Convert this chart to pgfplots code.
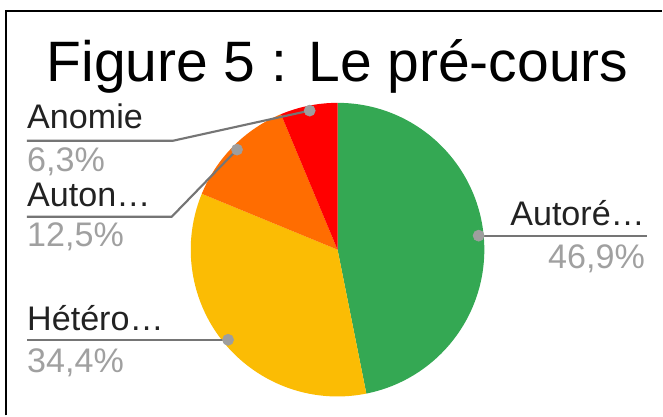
\documentclass[border=0pt]{standalone}
\usepackage{pgfplots}
\usepackage{pgfplotstable}
\pgfplotsset{compat=1.18}
\usepackage{fontspec}
\setmainfont{Liberation Sans}
\definecolor{cgreen}{HTML}{34A853}
\definecolor{cyellow}{HTML}{FBBC04}
\definecolor{corange}{HTML}{FF6D01}
\definecolor{cred}{HTML}{FF0000}
\definecolor{leadgray}{HTML}{757575}
\definecolor{dotgray}{HTML}{9E9E9E}
\definecolor{pctgray}{HTML}{A0A0A0}
\definecolor{labtext}{HTML}{222222}

\pgfplotstableread{
value color
46.9 cgreen
34.4 cyellow
12.5 corange
6.3 cred
}\piedata

\begin{document}
\begin{tikzpicture}
\begin{axis}[x=0.75pt, y=0.75pt, xmin=0, xmax=663, ymin=0, ymax=416,
  hide axis, clip=false, scale only axis]
\path (axis cs:0,0) rectangle (axis cs:663,416);
% frame
\addplot[black, line width=1.4pt] coordinates {(6,0) (6,405) (663,405)};
% title
\node[anchor=base, inner sep=0pt, font=\fontsize{42.8}{50}\selectfont] at (axis cs:338,334) {Figure 5 : Le pré-cours};
% total
\def\total{0}
\pgfplotsforeachungrouped \i in {0,...,3}{%
  \pgfplotstablegetelem{\i}{value}\of\piedata
  \pgfmathsetmacro\total{\total+\pgfplotsretval}%
}
\def\cum{0}
\pgfplotsforeachungrouped \i in {0,...,3}{%
  \pgfplotstablegetelem{\i}{value}\of\piedata \let\pv\pgfplotsretval
  \pgfplotstablegetelem{\i}{color}\of\piedata \let\pc\pgfplotsretval
  \pgfmathsetmacro\aS{90-360*(\cum/\total)}%
  \pgfmathsetmacro\cum{\cum+\pv}%
  \pgfmathsetmacro\aE{90-360*(\cum/\total)}%
  \pgfmathsetmacro\aM{(\aS+\aE)/2}%
  \edef\tmp{\noexpand\fill[\pc] (axis cs:338,166) -- ++(\aS:110.25pt) arc[start angle=\aS, end angle=\aE, radius=110.25pt] -- cycle;}%
  \tmp
  \pgfmathsetmacro\dx{338+142*cos(\aM)}%
  \pgfmathsetmacro\dy{166+142*sin(\aM)}%
  \expandafter\xdef\csname dotx\i\endcsname{\dx}%
  \expandafter\xdef\csname doty\i\endcsname{\dy}%
}
% leader lines
\edef\tmp{\noexpand\addplot[leadgray, line width=1.6pt] coordinates {(\csname dotx0\endcsname,\csname doty0\endcsname) (648,\csname doty0\endcsname)};}\tmp
\edef\tmp{\noexpand\addplot[leadgray, line width=1.6pt] coordinates {(\csname dotx1\endcsname,\csname doty1\endcsname) (27,\csname doty1\endcsname)};}\tmp
\edef\tmp{\noexpand\addplot[leadgray, line width=1.6pt] coordinates {(\csname dotx2\endcsname,\csname doty2\endcsname) (172,199) (27,199)};}\tmp
\edef\tmp{\noexpand\addplot[leadgray, line width=1.6pt] coordinates {(\csname dotx3\endcsname,\csname doty3\endcsname) (173,275) (27,275)};}\tmp
% dots
\edef\tmp{\noexpand\addplot[only marks, mark=*, mark size=4.2pt, dotgray] coordinates {(\csname dotx0\endcsname,\csname doty0\endcsname) (\csname dotx1\endcsname,\csname doty1\endcsname) (\csname dotx2\endcsname,\csname doty2\endcsname) (\csname dotx3\endcsname,\csname doty3\endcsname)};}\tmp
% labels
\tikzset{lab/.style={inner sep=0pt, font=\fontsize{25.6}{30}\selectfont}}
\node[lab, anchor=base west, text=labtext] at (axis cs:27,287) {Anomie};
\node[lab, anchor=base west, text=pctgray] at (axis cs:27,244) {6,3\%};
\node[lab, anchor=base west, text=labtext] at (axis cs:27,209) {Auton…};
\node[lab, anchor=base west, text=pctgray] at (axis cs:27,169) {12,5\%};
\node[lab, anchor=base east, text=labtext] at (axis cs:646,190) {Autoré…};
\node[lab, anchor=base east, text=pctgray] at (axis cs:646,147) {46,9\%};
\node[lab, anchor=base west, text=labtext] at (axis cs:27,85) {Hétéro…};
\node[lab, anchor=base west, text=pctgray] at (axis cs:27,43) {34,4\%};
\end{axis}
\end{tikzpicture}
\end{document}
